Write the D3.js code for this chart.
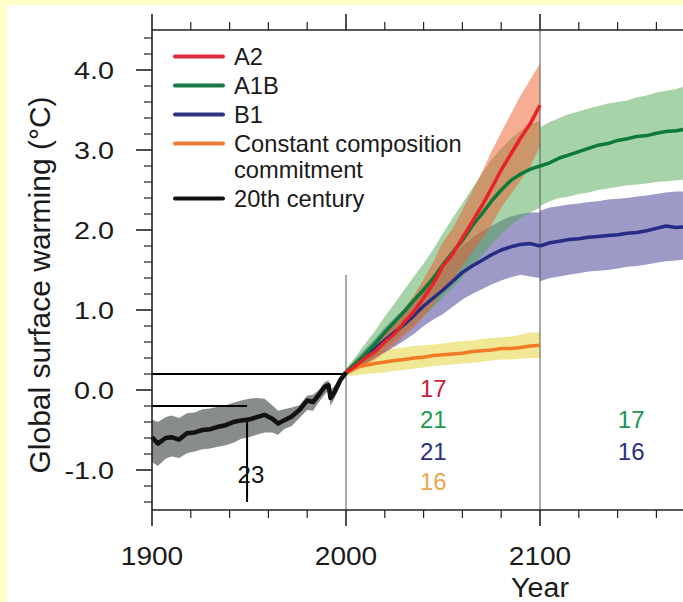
<!DOCTYPE html>
<html><head><meta charset="utf-8">
<script src="https://cdn.jsdelivr.net/npm/d3@7"></script>
<style>html,body{margin:0;padding:0;background:#fffdc8;} svg{display:block;}</style>
</head><body>
<svg id="c" width="683" height="602"></svg>
<script>
// ---------- data ----------
const histYears = [1900,1903,1907,1910,1914,1918,1922,1926,1930,1934,1938,1942,1946,1950,1954,1958,1962,1965,1968,1972,1976,1980,1983,1986,1989,1991,1992,1994,1997,2000];
const histMean  = [-0.59,-0.67,-0.60,-0.59,-0.62,-0.54,-0.53,-0.50,-0.49,-0.46,-0.44,-0.40,-0.38,-0.37,-0.34,-0.31,-0.36,-0.42,-0.38,-0.33,-0.25,-0.13,-0.15,-0.06,0.04,0.06,-0.10,-0.03,0.12,0.22];
const histHi    = [-0.37,-0.40,-0.34,-0.32,-0.35,-0.29,-0.28,-0.24,-0.23,-0.21,-0.19,-0.16,-0.13,-0.11,-0.10,-0.11,-0.19,-0.26,-0.24,-0.22,-0.19,-0.07,-0.06,0.00,0.10,0.12,0.00,0.05,0.17,0.24];
const histLo    = [-0.90,-0.95,-0.86,-0.83,-0.85,-0.79,-0.77,-0.74,-0.73,-0.71,-0.69,-0.66,-0.61,-0.59,-0.56,-0.53,-0.53,-0.56,-0.49,-0.45,-0.35,-0.25,-0.26,-0.15,-0.06,0.00,-0.20,-0.11,0.07,0.20];

const scenYears = [2000,2005,2010,2015,2020,2025,2030,2035,2040,2045,2050,2055,2060,2065,2070,2075,2080,2085,2090,2095,2100];
const a2Mean  = [0.22,0.30,0.40,0.48,0.60,0.70,0.85,0.98,1.15,1.33,1.55,1.70,1.90,2.10,2.30,2.52,2.75,2.95,3.15,3.33,3.56];
const a2Hi    = [0.25,0.36,0.48,0.58,0.72,0.85,1.02,1.18,1.38,1.60,1.85,2.02,2.25,2.48,2.72,2.98,3.22,3.45,3.68,3.88,4.08];
const a2Lo    = [0.19,0.24,0.32,0.38,0.48,0.56,0.68,0.78,0.92,1.06,1.25,1.38,1.55,1.72,1.88,2.06,2.28,2.45,2.62,2.80,3.05];
const a1bMean = [0.22,0.33,0.45,0.58,0.72,0.85,0.98,1.12,1.25,1.40,1.57,1.72,1.87,2.05,2.20,2.36,2.50,2.62,2.70,2.76,2.80];
const a1bHi   = [0.26,0.42,0.58,0.74,0.92,1.08,1.25,1.42,1.58,1.76,1.96,2.15,2.33,2.52,2.70,2.88,3.02,3.14,3.24,3.32,3.37];
const a1bLo   = [0.18,0.25,0.33,0.42,0.52,0.62,0.72,0.82,0.92,1.03,1.16,1.28,1.40,1.55,1.68,1.82,1.95,2.06,2.15,2.22,2.28];
const b1Mean  = [0.22,0.32,0.42,0.52,0.62,0.72,0.82,0.93,1.05,1.15,1.25,1.36,1.47,1.55,1.62,1.69,1.75,1.79,1.82,1.83,1.80];
const b1Hi    = [0.26,0.38,0.52,0.64,0.78,0.90,1.02,1.16,1.30,1.42,1.55,1.68,1.80,1.90,1.98,2.05,2.12,2.17,2.20,2.22,2.22];
const b1Lo    = [0.18,0.26,0.33,0.40,0.47,0.54,0.62,0.70,0.80,0.88,0.95,1.04,1.13,1.20,1.26,1.32,1.37,1.41,1.44,1.42,1.40];
const ccMean  = [0.22,0.28,0.31,0.33,0.35,0.37,0.38,0.40,0.41,0.43,0.44,0.45,0.46,0.48,0.49,0.50,0.52,0.52,0.53,0.55,0.56];
const ccHi    = [0.26,0.40,0.45,0.47,0.50,0.52,0.53,0.55,0.56,0.57,0.58,0.60,0.61,0.62,0.64,0.65,0.66,0.67,0.69,0.72,0.72];
const ccLo    = [0.18,0.18,0.20,0.21,0.22,0.24,0.25,0.27,0.28,0.30,0.31,0.32,0.33,0.34,0.35,0.37,0.38,0.38,0.39,0.40,0.40];

const extYears = [2100,2105,2110,2115,2120,2125,2130,2135,2140,2145,2150,2155,2160,2165,2170,2175];
const a1bExtMean = [2.80,2.84,2.90,2.94,2.98,3.02,3.06,3.08,3.12,3.14,3.17,3.18,3.21,3.23,3.24,3.26];
const a1bExtHi   = [3.28,3.35,3.40,3.45,3.48,3.52,3.55,3.58,3.60,3.62,3.66,3.68,3.72,3.74,3.76,3.80];
const a1bExtLo   = [2.30,2.36,2.40,2.42,2.45,2.47,2.50,2.52,2.54,2.56,2.57,2.58,2.60,2.61,2.62,2.63];
const b1ExtMean  = [1.80,1.84,1.86,1.88,1.89,1.91,1.92,1.93,1.94,1.96,1.97,1.99,2.02,2.05,2.03,2.04];
const b1ExtHi    = [2.24,2.28,2.30,2.32,2.33,2.35,2.36,2.38,2.39,2.40,2.42,2.43,2.45,2.47,2.48,2.48];
const b1ExtLo    = [1.36,1.40,1.42,1.44,1.46,1.48,1.49,1.50,1.52,1.54,1.55,1.57,1.59,1.61,1.62,1.63];

const yMajor = [-1,0,1,2,3,4];
const yTickLabels = ["-1.0","0.0","1.0","2.0","3.0","4.0"];
const yMinor = [-1.4,-1.2,-0.8,-0.6,-0.4,-0.2,0.2,0.4,0.6,0.8,1.2,1.4,1.6,1.8,2.2,2.4,2.6,2.8,3.2,3.4,3.6,3.8,4.2,4.4];
const xMajor = [1900,2000,2100];
const xTickLabels = ["1900","2000","2100"];
const xMinor = [1920,1940,1960,1980,2020,2040,2060,2080,2120,2140,2160];

const legendLabels = [["A2"],["A1B"],["B1"],["Constant composition","commitment"],["20th century"]];
const legendColors = ["#dc2a3e","#177a44","#2e3382","#ec7a36","#111111"];

const refLevels = [0.2,-0.2];
const refEndYears = [2000,1949];
const refVertYear = 1949, refVertFrom = -0.40, refVertTo = -1.40;

const countLabels = [
  {year:2045, v:"17", row:0, c:"#c8203c"},
  {year:2045, v:"21", row:1, c:"#1c9a4c"},
  {year:2045, v:"21", row:2, c:"#2c307c"},
  {year:2045, v:"16", row:3, c:"#eaa84e"},
  {year:2147, v:"17", row:1, c:"#1a9450"},
  {year:2147, v:"16", row:2, c:"#2c307c"}
];
const histCount = {year:1951, v:"23"};

// ---------- drawing ----------
const svg = d3.select("#c");
const W = 683, H = 602;
const x = d3.scaleLinear().domain([1900,2175]).range([152, 152+275*1.94]);
const y = d3.scaleLinear().domain([-1.5,4.5]).range([510,30]);
const FONT = "'Liberation Sans', Arial, Helvetica, sans-serif";

svg.append("rect").attr("width",W).attr("height",H).attr("fill","#fffdc8");
svg.append("rect").attr("x",7).attr("y",5).attr("width",W-7).attr("height",H-5).attr("fill","#ffffff");

const zip = (ys, m, lo, hi) => ys.map((yr,i)=>({year:yr, m:m?m[i]:null, lo:lo?lo[i]:null, hi:hi?hi[i]:null}));
const area = d3.area().x(d=>x(d.year)).y0(d=>y(d.lo)).y1(d=>y(d.hi));
const line = d3.line().x(d=>x(d.year)).y(d=>y(d.m));

const plot = svg.append("g");
// bands
plot.append("path").datum(zip(histYears,null,histLo,histHi)).attr("d",area).attr("fill","#898d89");
plot.append("path").datum(zip(scenYears,null,ccLo,ccHi)).attr("d",area).attr("fill","#e8d850").attr("opacity",0.6);
plot.append("path").datum(zip(scenYears,null,b1Lo,b1Hi)).attr("d",area).attr("fill","#3c3590").attr("opacity",0.5);
plot.append("path").datum(zip(extYears,null,b1ExtLo,b1ExtHi)).attr("d",area).attr("fill","#3c3590").attr("opacity",0.5);
plot.append("path").datum(zip(scenYears,null,a1bLo,a1bHi)).attr("d",area).attr("fill","#4ea852").attr("opacity",0.5);
plot.append("path").datum(zip(extYears,null,a1bExtLo,a1bExtHi)).attr("d",area).attr("fill","#4ea852").attr("opacity",0.5);
plot.append("path").datum(zip(scenYears,null,a2Lo,a2Hi)).attr("d",area).attr("fill","#f05a2a").attr("opacity",0.5);

// thin vertical lines
plot.append("line").attr("x1",x(2000)).attr("x2",x(2000)).attr("y1",y(1.44)).attr("y2",y(-1.5)).attr("stroke","#555").attr("stroke-width",1);
plot.append("line").attr("x1",x(2100)).attr("x2",x(2100)).attr("y1",y(4.5)).attr("y2",y(-1.5)).attr("stroke","#555").attr("stroke-width",1);

// lines
const drawLine = (ys,m,c,w) => plot.append("path").datum(zip(ys,m)).attr("d",line).attr("fill","none").attr("stroke",c).attr("stroke-width",w||3.5).attr("stroke-linejoin","round");
drawLine(scenYears, ccMean, "#f07a26");
drawLine(scenYears, b1Mean, "#262c84");
drawLine(extYears, b1ExtMean, "#262c84");
drawLine(scenYears, a1bMean, "#0b7a3a");
drawLine(extYears, a1bExtMean, "#0b7a3a");
drawLine(scenYears, a2Mean, "#ea2228");
drawLine(histYears, histMean, "#111111", 4.5);

// reference lines
refLevels.forEach((lv,i)=>{
  plot.append("line").attr("x1",x(1900)).attr("x2",x(refEndYears[i])).attr("y1",y(lv)).attr("y2",y(lv)).attr("stroke","#000").attr("stroke-width",2);
});
plot.append("line").attr("x1",x(refVertYear)).attr("x2",x(refVertYear)).attr("y1",y(refVertFrom)).attr("y2",y(refVertTo)).attr("stroke","#000").attr("stroke-width",2);

// axes
const axColor = "#222";
const axes = svg.append("g").attr("stroke",axColor).attr("stroke-width",1.6).attr("fill","none");
axes.append("line").attr("x1",x(1900)).attr("x2",W).attr("y1",y(4.5)).attr("y2",y(4.5));
axes.append("line").attr("x1",x(1900)).attr("x2",W).attr("y1",y(-1.5)).attr("y2",y(-1.5));
axes.append("line").attr("x1",x(1900)).attr("x2",x(1900)).attr("y1",y(4.5)).attr("y2",y(-1.5));
yMajor.forEach(v=>axes.append("line").attr("x1",x(1900)-16).attr("x2",x(1900)).attr("y1",y(v)).attr("y2",y(v)));
yMinor.forEach(v=>axes.append("line").attr("x1",x(1900)-8).attr("x2",x(1900)).attr("y1",y(v)).attr("y2",y(v)).attr("stroke-width",1.2));
xMajor.forEach(v=>{
  axes.append("line").attr("x1",x(v)).attr("x2",x(v)).attr("y1",y(-1.5)).attr("y2",y(-1.5)+16);
  axes.append("line").attr("x1",x(v)).attr("x2",x(v)).attr("y1",y(4.5)).attr("y2",y(4.5)-16);
});
xMinor.forEach(v=>{
  axes.append("line").attr("x1",x(v)).attr("x2",x(v)).attr("y1",y(-1.5)).attr("y2",y(-1.5)+8).attr("stroke-width",1.2);
  axes.append("line").attr("x1",x(v)).attr("x2",x(v)).attr("y1",y(4.5)).attr("y2",y(4.5)-8).attr("stroke-width",1.2);
});

// tick labels
const txt = svg.append("g").attr("font-family",FONT).attr("fill","#1a1a1a");
yMajor.forEach((v,i)=>{
  txt.append("text").attr("transform",`translate(${x(1900)-38},${y(v)+8.5}) scale(1.2,1)`)
    .attr("text-anchor","end").attr("font-size",24).text(yTickLabels[i]);
});
xMajor.forEach((v,i)=>{
  txt.append("text").attr("transform",`translate(${x(v)},${565}) scale(1.08,1)`)
    .attr("text-anchor","middle").attr("font-size",26).text(xTickLabels[i]);
});
txt.append("text").attr("transform",`translate(${x(2100)},${597}) scale(1.06,1)`)
  .attr("text-anchor","middle").attr("font-size",27).text("Year");
txt.append("text").attr("transform",`translate(50,285) rotate(-90)`)
  .attr("text-anchor","middle").attr("font-size",30).text("Global surface warming (°C)");

// legend
const leg = svg.append("g").attr("font-family",FONT).attr("fill","#1a1a1a");
let baseY = 65;
const rowStep = 29;
legendLabels.forEach((lines,i)=>{
  leg.append("line").attr("x1",175).attr("x2",223).attr("y1",baseY-8.5).attr("y2",baseY-8.5)
    .attr("stroke",legendColors[i]).attr("stroke-width",4).attr("stroke-linecap","round");
  lines.forEach((t,j)=>{
    leg.append("text").attr("transform",`translate(234,${baseY + j*26}) scale(1.03,1)`).attr("font-size",23).text(t);
  });
  baseY += rowStep + (lines.length-1)*26;
});

// counts
const cnt = svg.append("g").attr("font-family",FONT).attr("font-size",24).attr("text-anchor","middle");
const rowBase = [397,428,460,490];
countLabels.forEach(d=>{
  cnt.append("text").attr("x",x(d.year)).attr("y",rowBase[d.row]).attr("fill",d.c).text(d.v);
});
cnt.append("text").attr("x",x(histCount.year)).attr("y",483).attr("fill","#111").text(histCount.v);
</script>
</body></html>
